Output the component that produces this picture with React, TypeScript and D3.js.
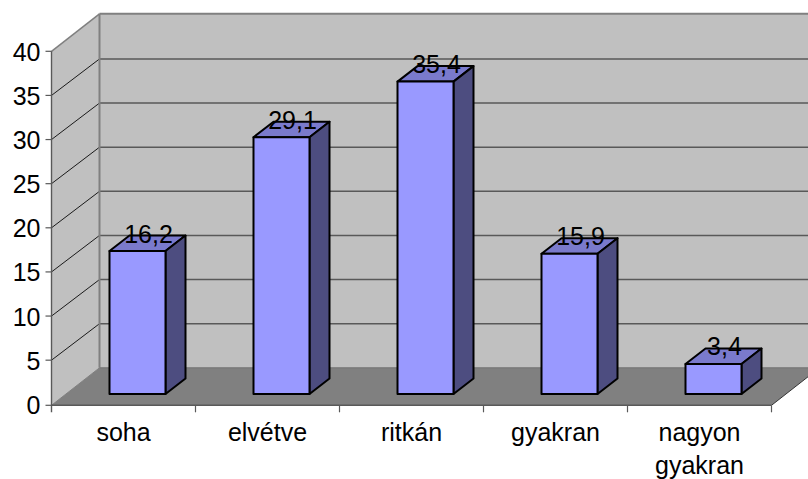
import React from "react";
import * as d3 from "d3";

// Survey answers, one box per frequency category
const categories = ["soha", "elvétve", "ritkán", "gyakran", "nagyon gyakran"];
const values = [16.2, 29.1, 35.4, 15.9, 3.4];
const valueLabels = ["16,2", "29,1", "35,4", "15,9", "3,4"];
const yTicks = [0, 5, 10, 15, 20, 25, 30, 35, 40];

const WIDTH = 808;
const HEIGHT = 479;
const FONT = "'Liberation Sans', Arial, sans-serif";
const FONT_SIZE = 25;

// Oblique projection of the chart's depth axis
const DEPTH_X = 48;
const DEPTH_Y = 37.5;
// Boxes stand part-way into the floor
const BAR_DX = 20;
const BAR_DY = 15.5;
const BAR_INSET_X = 58;
const BAR_INSET_Y = 10.3;
const BAR_WIDTH = 56;

const x = d3.scaleBand<string>().domain(categories).range([51.5, 771.5]);
const y = d3.scaleLinear().domain([0, 40]).range([404.3, 51.3]);

const pts = (p: [number, number][]) => p.map((c) => c.join(",")).join(" ");

export default function App() {
  const x0 = x.range()[0];
  const x1 = x.range()[1];
  const bottom = y(0) + 1;
  const top = y(40);
  const backX = x0 + DEPTH_X;
  const backBottom = bottom - DEPTH_Y;
  const backTop = top - DEPTH_Y;

  return (
    <svg
      width={WIDTH}
      height={HEIGHT}
      style={{ position: "absolute", left: 0, top: 0, background: "#fff" }}
      fontFamily={FONT}
      fontSize={FONT_SIZE}
    >
      {/* back wall */}
      <rect x={backX} y={backTop} width={WIDTH - backX + 20} height={backBottom - backTop} fill="#c0c0c0" />
      {/* side wall */}
      <polygon
        points={pts([[x0, top], [backX, backTop], [backX, backBottom], [x0, bottom]])}
        fill="#c0c0c0"
      />
      {/* floor */}
      <polygon
        points={pts([[x0, bottom], [backX, backBottom], [x1 + DEPTH_X, backBottom], [x1, bottom]])}
        fill="#808080"
      />

      {/* gridlines across the back wall and down the side wall */}
      {yTicks.filter((t) => t > 0 && t < 40).map((t) => (
        <g key={t}>
          <line x1={backX} x2={WIDTH} y1={y(t) - DEPTH_Y + 1} y2={y(t) - DEPTH_Y + 1} stroke="#595959" strokeWidth={1.4} />
          <line x1={x0} x2={backX} y1={y(t)} y2={y(t) - DEPTH_Y + 1} stroke="#1a1a1a" strokeWidth={1} />
        </g>
      ))}

      {/* wall outlines */}
      <line x1={backX} x2={WIDTH} y1={backTop} y2={backTop} stroke="#808080" strokeWidth={2} />
      <line x1={x0} x2={backX} y1={top} y2={backTop} stroke="#808080" strokeWidth={1.5} />
      <line x1={backX} x2={backX} y1={backTop} y2={backBottom} stroke="#808080" strokeWidth={2} />
      <line x1={backX} x2={WIDTH} y1={backBottom} y2={backBottom} stroke="#707070" strokeWidth={1} />
      <line x1={x0} x2={backX} y1={bottom} y2={backBottom} stroke="#808080" strokeWidth={1} />
      <line x1={x1} x2={x1 + DEPTH_X} y1={bottom} y2={backBottom} stroke="#333" strokeWidth={1} />

      {/* value axis */}
      <line x1={x0} x2={x0} y1={top} y2={bottom + 7} stroke="#595959" strokeWidth={1.4} />
      {yTicks.map((t) => (
        <g key={t}>
          <line x1={x0 - 6} x2={x0} y1={t === 0 ? bottom : y(t)} y2={t === 0 ? bottom : y(t)} stroke="#595959" strokeWidth={1.2} />
          <text x={40.5} y={y(t) + 9.5} textAnchor="end" fill="#000">
            {t}
          </text>
        </g>
      ))}

      {/* category axis */}
      <line x1={x0} x2={x1} y1={bottom} y2={bottom} stroke="#595959" strokeWidth={1.4} />
      {categories.map((c) => {
        const tx = (x(c) as number) + x.bandwidth();
        const cx = (x(c) as number) + x.bandwidth() / 2;
        const words = c === "nagyon gyakran" ? c.split(" ") : [c];
        return (
          <g key={c}>
            <line x1={tx} x2={tx} y1={bottom} y2={bottom + 7} stroke="#595959" strokeWidth={1.2} />
            {words.map((w, k) => (
              <text key={w} x={cx} y={441 + k * 33} textAnchor="middle" fill="#000">
                {w}
              </text>
            ))}
          </g>
        );
      })}

      {/* boxes */}
      {categories.map((c, i) => {
        const left = (x(c) as number) + BAR_INSET_X;
        const right = left + BAR_WIDTH;
        const yTop = y(values[i]) - BAR_INSET_Y;
        const yBase = y(0) - BAR_INSET_Y;
        return (
          <g key={c} stroke="#000" strokeWidth={2} strokeLinejoin="round">
            <polygon
              points={pts([[left, yTop], [left + BAR_DX, yTop - BAR_DY], [right + BAR_DX, yTop - BAR_DY], [right, yTop]])}
              fill="#7a7acc"
            />
            <polygon
              points={pts([[right, yTop], [right + BAR_DX, yTop - BAR_DY], [right + BAR_DX, yBase - BAR_DY], [right, yBase]])}
              fill="#4d4d80"
            />
            <rect x={left} y={yTop} width={BAR_WIDTH} height={yBase - yTop} fill="#9999ff" />
          </g>
        );
      })}

      {/* value labels sit over the box tops */}
      {categories.map((c, i) => (
        <text
          key={c}
          x={(x(c) as number) + BAR_INSET_X + 39}
          y={y(values[i]) - BAR_INSET_Y - 8.5}
          textAnchor="middle"
          fill="#000"
        >
          {valueLabels[i]}
        </text>
      ))}
    </svg>
  );
}
